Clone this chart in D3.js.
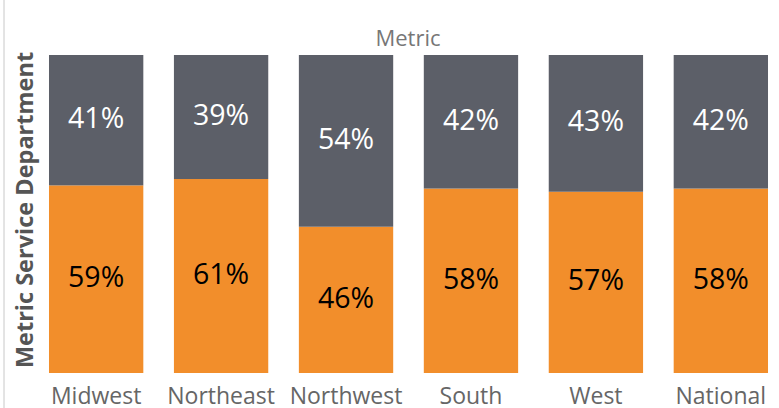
<!DOCTYPE html>
<html>
<head>
<meta charset="utf-8">
<script src="https://cdn.jsdelivr.net/npm/d3@7"></script>
<style>
  body { margin: 0; background: #fff; }
  text { font-family: "Open Sans", "Noto Sans", sans-serif; }
</style>
</head>
<body>
<svg id="chart" width="779" height="408"></svg>
<script>
// regions and the two shares (bottom orange, top gray)
const regions = ['Midwest', 'Northeast', 'Northwest', 'South', 'West', 'National']
const lowerShare = [59, 61, 46, 58, 57, 58]
const upperShare = [41, 39, 54, 42, 43, 42]

const colors = { lower: '#f28e2b', upper: '#5c5f68' }

const svg = d3.select('#chart')
const plotTop = 55
const plotBottom = 373

const x = d3.scaleBand().domain(regions).range([34, 783]).paddingInner(0.245).paddingOuter(0.12)
const y = d3.scaleLinear().domain([0, 100]).range([plotBottom, plotTop])

const data = regions.map((r, i) => ({ region: r, lower: lowerShare[i], upper: upperShare[i] }))
const stacked = d3.stack().keys(['lower', 'upper'])(data)

// left border line
svg.append('line')
  .attr('x1', 4).attr('x2', 4).attr('y1', 0).attr('y2', 408)
  .attr('stroke', '#c8c8c8').attr('stroke-width', 1)

const g = svg.append('g')

g.selectAll('.series')
  .data(stacked)
  .join('g')
  .attr('class', 'series')
  .attr('fill', d => colors[d.key])
  .selectAll('rect')
  .data(d => d)
  .join('rect')
  .attr('x', d => x(d.data.region))
  .attr('y', d => y(d[1]))
  .attr('width', x.bandwidth())
  .attr('height', d => y(d[0]) - y(d[1]))

// value labels
stacked.forEach(s => {
  g.selectAll('.lbl-' + s.key)
    .data(s)
    .join('text')
    .attr('class', 'lbl-' + s.key)
    .attr('x', d => x(d.data.region) + x.bandwidth() / 2)
    .attr('y', d => (y(d[0]) + y(d[1])) / 2 + 8)
    .attr('text-anchor', 'middle')
    .attr('font-size', 28.5)
    .attr('fill', s.key === 'upper' ? '#ffffff' : '#000000')
    .text(d => (d[1] - d[0]) + '%')
})

// category labels
svg.selectAll('.cat')
  .data(regions)
  .join('text')
  .attr('class', 'cat')
  .attr('x', d => x(d) + x.bandwidth() / 2)
  .attr('y', 404)
  .attr('text-anchor', 'middle')
  .attr('font-size', 23)
  .attr('fill', '#666666')
  .text(d => d)

// header
svg.append('text')
  .attr('x', 408).attr('y', 46)
  .attr('text-anchor', 'middle')
  .attr('font-size', 22)
  .attr('fill', '#777777')
  .text('Metric')

// y axis title
svg.append('text')
  .attr('transform', 'translate(33,210) rotate(-90)')
  .attr('text-anchor', 'middle')
  .attr('font-size', 23.5)
  .attr('font-weight', 'bold')
  .attr('fill', '#555555')
  .text('Metric Service Department')
</script>
</body>
</html>
